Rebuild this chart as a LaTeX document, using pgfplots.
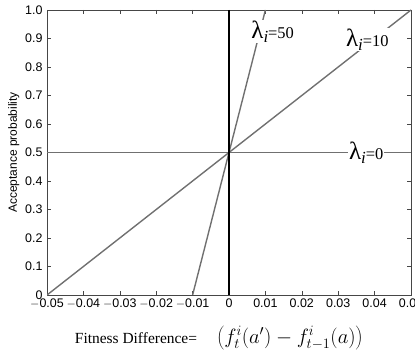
\documentclass[border=0pt]{standalone}
\usepackage{pgfplots}
\pgfplotsset{compat=1.18}
\usepackage{fontspec}
\setmainfont{Liberation Serif}
\setsansfont{Liberation Sans}
\definecolor{lgray}{RGB}{112,112,112}
\definecolor{agray}{RGB}{70,70,70}
\newcommand{\lam}[1]{{\fontsize{25}{26}\selectfont λ}\raisebox{-3.5bp}{\fontsize{17}{18}\selectfont\itshape i}{\fontsize{16.5}{17}\selectfont=#1}}
\begin{document}
\begin{tikzpicture}
\begin{axis}[
  scale only axis,
  width=364bp, height=285bp,
  xmin=-0.05, xmax=0.05, ymin=0, ymax=1,
  scaled x ticks=false, scaled y ticks=false,
  xtick={-0.05,-0.04,...,0.05},
  xticklabels={$-$0.05,$-$0.04,$-$0.03,$-$0.02,$-$0.01,0,0.01,0.02,0.03,0.04,0.05},
  ytick={0,0.1,...,1.0},
  yticklabels={0,0.1,0.2,0.3,0.4,0.5,0.6,0.7,0.8,0.9,1.0},
  tick align=inside,
  major tick length=4bp,
  tick style={agray, line width=0.6pt},
  axis line style={agray, line width=0.7pt},
  ticklabel style={font=\sffamily\fontsize{12.5}{13}\selectfont},
  /pgf/number format/assume math mode=true,
  xticklabel style={yshift=0bp},
  yticklabel style={xshift=-1bp},
  ylabel={\sffamily\fontsize{12}{13}\selectfont Acceptance probability},
  ylabel style={yshift=-1bp},
  xlabel={\fontsize{15.5}{17}\selectfont Fitness Difference=\hspace{20bp}\fontsize{21.5}{23}\selectfont$\left(f_t^i(a')-f_{t-1}^i(a)\right)$},
  xlabel style={yshift=-11bp, xshift=-10bp},
]
\addplot[lgray, line width=1.4pt] coordinates {(-0.05,0.5) (0.05,0.5)};
\addplot[lgray, line width=1.4pt] coordinates {(-0.05,0) (0.05,1)};
\addplot[lgray, line width=1.4pt] coordinates {(-0.01,0) (0.01,1)};
\addplot[black, line width=1.6pt] coordinates {(0,0) (0,1)};
\node[fill=white, inner sep=1pt] at (axis cs:0.0377,0.5) {\lam{0}};
\node[fill=white, inner sep=1pt] at (axis cs:0.0380,0.895) {\lam{10}};
\node[fill=white, inner sep=1pt] at (axis cs:0.0120,0.923) {\lam{50}};
\end{axis}
\pgfresetboundingbox
\path ([xshift=-47bp,yshift=-61bp]current axis.south west) rectangle ([xshift=4bp,yshift=10bp]current axis.north east);
\end{tikzpicture}
\end{document}
